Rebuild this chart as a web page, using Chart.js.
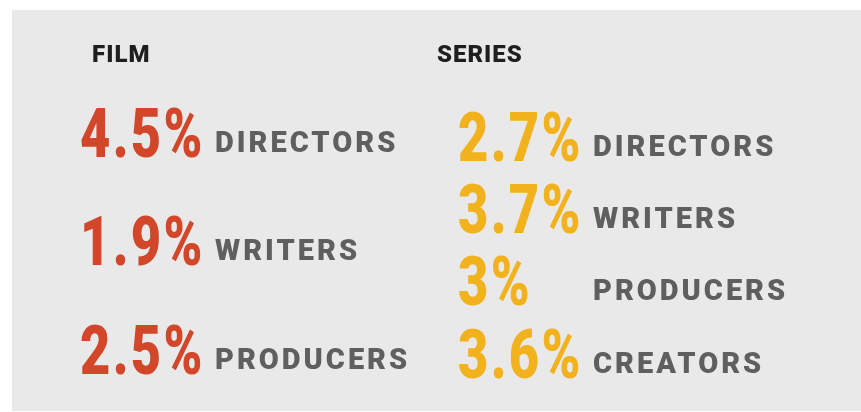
<!DOCTYPE html>
<html>
<head>
<meta charset="utf-8">
<script src="https://cdn.jsdelivr.net/npm/chart.js@4/dist/chart.umd.min.js"></script>
<style>
  html, body { margin: 0; padding: 0; background: #fff; }
  #wrap { width: 861px; height: 412px; }
</style>
</head>
<body>
<div id="wrap"><canvas id="shares" width="861" height="412"></canvas></div>
<script>
// share of jobs held by the group, per role
const filmRoles = ['DIRECTORS', 'WRITERS', 'PRODUCERS'];
const filmShares = [4.5, 1.9, 2.5];
const seriesRoles = ['DIRECTORS', 'WRITERS', 'PRODUCERS', 'CREATORS'];
const seriesShares = [2.7, 3.7, 3, 3.6];

const FILM_COLOR = '#d2462a';
const SERIES_COLOR = '#f2b21e';
const LABEL_COLOR = '#5f5f5f';
const HEAD_COLOR = '#1f1f1f';

// one point per role; the plugin below writes the text at each point
function points(shares, roles, col) {
    return shares.map((v, i) => ({ x: col, y: i, value: v, role: roles[i] }));
}

// background panel + big numbers + role names
const textPlugin = {
    id: 'bigNumbers',
    beforeDraw(chart) {
        const ctx = chart.ctx;
        ctx.save();
        ctx.fillStyle = '#ffffff';
        ctx.fillRect(0, 0, chart.width, chart.height);
        ctx.fillStyle = '#e9e9e9';
        ctx.fillRect(12, 10, chart.width - 12, chart.height - 11);
        ctx.restore();
    },
    afterDatasetsDraw(chart) {
        const ctx = chart.ctx;
        chart.data.datasets.forEach((ds, di) => {
            const meta = chart.getDatasetMeta(di);
            ctx.save();
            // column heading
            const first = meta.data[0];
            ctx.fillStyle = HEAD_COLOR;
            ctx.font = '900 24px Roboto';
            ctx.letterSpacing = '1px';
            ctx.textBaseline = 'alphabetic';
            ctx.fillText(ds.label, first.x + ds.headingDx, 62);
            meta.data.forEach((pt, i) => {
                const d = ds.data[i];
                // percentage, condensed
                ctx.save();
                ctx.translate(pt.x - 2, pt.y + 24.5);
                ctx.scale(0.76, 1);
                ctx.letterSpacing = '3px';
                ctx.font = '900 69px Roboto';
                ctx.fillStyle = ds.textColor;
                ctx.fillText(d.value + '%', 0, 0);
                ctx.restore();
                // role name
                ctx.save();
                ctx.font = '900 29px Roboto';
                ctx.letterSpacing = '3px';
                ctx.fillStyle = LABEL_COLOR;
                ctx.fillText(d.role, pt.x + 133, pt.y + 19.5);
                ctx.restore();
            });
            ctx.restore();
        });
    }
};

new Chart(document.getElementById('shares'), {
    type: 'scatter',
    data: {
        datasets: [
            {
                label: 'FILM',
                data: points(filmShares, filmRoles, 0),
                yAxisID: 'yFilm',
                textColor: FILM_COLOR,
                headingDx: 10,
                pointRadius: 0,
                pointHoverRadius: 0
            },
            {
                label: 'SERIES',
                data: points(seriesShares, seriesRoles, 1),
                yAxisID: 'ySeries',
                textColor: SERIES_COLOR,
                headingDx: -23,
                pointRadius: 0,
                pointHoverRadius: 0
            }
        ]
    },
    options: {
        responsive: false,
        animation: false,
        layout: { padding: { left: 82, right: 401, top: 132, bottom: 59 } },
        plugins: {
            legend: { display: false },
            tooltip: { enabled: false }
        },
        scales: {
            x: { type: 'linear', min: 0, max: 1, display: false },
            yFilm: { type: 'linear', min: 0, max: 2.03, reverse: true, display: false },
            ySeries: { type: 'linear', min: -0.06, max: 3, reverse: true, display: false }
        }
    },
    plugins: [textPlugin]
});
</script>
</body>
</html>
